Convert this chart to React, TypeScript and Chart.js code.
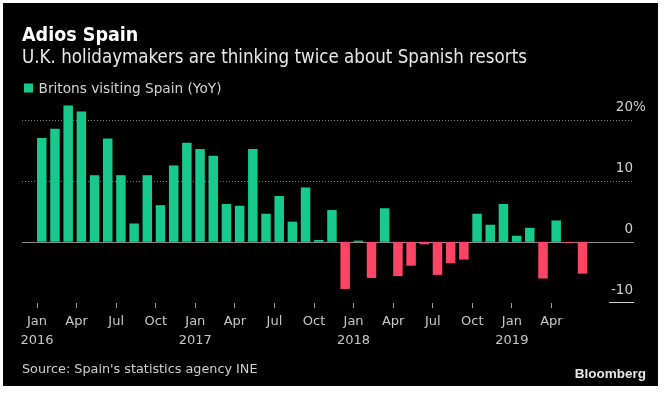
import React, { useEffect, useRef } from "react";
import { Chart, registerables } from "chart.js";

Chart.register(...registerables);

// ---------- data ----------
const TITLE = "Adios Spain";
const SUBTITLE = "U.K. holidaymakers are thinking twice about Spanish resorts";
const SERIES_LABEL = "Britons visiting Spain (YoY)";
const SOURCE = "Source: Spain's statistics agency INE";
const BRAND = "Bloomberg";

const MONTH_NAMES = ["Jan", "Feb", "Mar", "Apr", "May", "Jun", "Jul", "Aug", "Sep", "Oct", "Nov", "Dec"];
const START_YEAR = 2016;

// Monthly YoY % change, Jan 2016 .. Jun 2019
const YOY_VALUES = [
  17.0, 18.5, 22.3, 21.3, 10.9, 16.9, 10.9, 3.0, 10.9, 6.0, 12.5, 16.2,
  15.2, 14.1, 6.2, 5.9, 15.2, 4.6, 7.5, 3.3, 8.9, 0.3, 5.2, -7.7,
  0.2, -5.9, 5.5, -5.6, -3.9, -0.4, -5.4, -3.5, -2.9, 4.6, 2.8, 6.2,
  1.0, 2.3, -6.0, 3.5, -0.1, -5.2,
];

// month indices (from Jan 2016) that carry an x tick label
const X_TICK_MONTHS = [0, 3, 6, 9, 12, 15, 18, 21, 24, 27, 30, 33, 36, 39];
const Y_TICKS = [-10, 0, 10, 20];

// ---------- style ----------
const FAMILY = "'DejaVu Sans', sans-serif";
const FAMILY_COND = "'DejaVu Sans Condensed', 'DejaVu Sans', sans-serif";
const GREEN = "#17c98c";
const RED = "#ff4466";
const BAR_SHIFT = 0.36; // bars start at the beginning of their month

export default function App() {
  const canvasRef = useRef<HTMLCanvasElement | null>(null);

  useEffect(() => {
    document.body.style.margin = "0";
    const canvas = canvasRef.current;
    if (!canvas) return;

    const points = YOY_VALUES.map((v, i) => ({ x: i + BAR_SHIFT, y: v }));
    const colors = YOY_VALUES.map((v) => (v >= 0 ? GREEN : RED));

    const decor = {
      id: "decor",
      beforeDraw(chart: any) {
        const { ctx, width, height } = chart;
        ctx.save();
        ctx.fillStyle = "#ffffff";
        ctx.fillRect(0, 0, width, height);
        ctx.fillStyle = "#000000";
        ctx.fillRect(3, 3, 655, 383);
        ctx.restore();
      },
      beforeDatasetsDraw(chart: any) {
        const { ctx, chartArea } = chart;
        const ys = chart.scales.y;
        ctx.save();
        Y_TICKS.forEach((v) => {
          if (v === Y_TICKS[0]) return;
          const y = Math.round(ys.getPixelForValue(v)) + 0.5;
          ctx.beginPath();
          if (v === 0) {
            ctx.setLineDash([]);
            ctx.strokeStyle = "#8c8c8c";
          } else {
            ctx.setLineDash([1, 2]);
            ctx.strokeStyle = "#7a7a7a";
          }
          ctx.lineWidth = 1;
          ctx.moveTo(chartArea.left, y);
          ctx.lineTo(chartArea.right, y);
          ctx.stroke();
        });
        ctx.restore();
      },
      afterDraw(chart: any) {
        const { ctx, chartArea } = chart;
        const ys = chart.scales.y;
        ctx.save();
        ctx.textBaseline = "alphabetic";

        // y labels (above their lines, right aligned)
        const labelRight = chartArea.right - 1;
        ctx.font = `13.5px ${FAMILY}`;
        ctx.fillStyle = "#cfcfcf";
        Y_TICKS.forEach((v, idx) => {
          const y = ys.getPixelForValue(v);
          const txt = String(v);
          ctx.textAlign = "right";
          ctx.fillText(txt, labelRight, y - 9);
          if (idx === Y_TICKS.length - 1) {
            ctx.textAlign = "left";
            ctx.fillText("%", labelRight, y - 9);
          }
          if (v === Y_TICKS[0]) {
            const w = ctx.measureText(txt).width;
            ctx.strokeStyle = "#cfcfcf";
            ctx.lineWidth = 1;
            ctx.beginPath();
            const yy = Math.round(y) - 0.5;
            ctx.moveTo(labelRight - w - 2, yy);
            ctx.lineTo(labelRight + 1, yy);
            ctx.stroke();
          }
        });

        // title & subtitle
        ctx.textAlign = "left";
        ctx.fillStyle = "#ffffff";
        ctx.font = `bold 19.5px ${FAMILY_COND}`;
        ctx.fillText(TITLE, 22, 41);
        ctx.fillStyle = "#e8e8e8";
        ctx.font = `18.6px ${FAMILY_COND}`;
        ctx.fillText(SUBTITLE, 22, 63);

        // legend
        ctx.fillStyle = GREEN;
        ctx.fillRect(24, 83.5, 9, 9);
        ctx.fillStyle = "#d2d2d2";
        ctx.font = `13.7px ${FAMILY}`;
        ctx.fillText(SERIES_LABEL, 38.5, 92.5);

        // source
        ctx.fillStyle = "#cfcfcf";
        ctx.font = `12.8px ${FAMILY}`;
        ctx.fillText(SOURCE, 22, 373);

        // brand
        ctx.textAlign = "right";
        ctx.fillStyle = "#e6e6e6";
        ctx.font = `bold 13.5px 'Liberation Sans', Arial, sans-serif`;
        ctx.fillText(BRAND, 646, 378);
        ctx.restore();
      },
    };

    const chart = new Chart(canvas, {
      type: "bar",
      data: {
        datasets: [
          {
            label: SERIES_LABEL,
            data: points as any,
            backgroundColor: colors,
            borderWidth: 0,
            barPercentage: 0.72,
            categoryPercentage: 1,
            minBarLength: 1,
          },
        ],
      },
      options: {
        responsive: false,
        animation: false,
        events: [],
        layout: { padding: { left: 22, right: 31, top: 100, bottom: 40 } },
        plugins: {
          legend: { display: false },
          title: { display: false },
          tooltip: { enabled: false },
        },
        scales: {
          x: {
            type: "linear",
            offset: false,
            min: -1.14,
            max: 45.26,
            afterBuildTicks: (s: any) => {
              s.ticks = X_TICK_MONTHS.map((m) => ({ value: m }));
            },
            afterFit: (s: any) => {
              s.height = 50;
            },
            grid: {
              display: true,
              offset: false,
              drawOnChartArea: false,
              drawTicks: true,
              tickLength: 5,
              tickColor: "#9a9a9a",
              tickWidth: 1,
            },
            border: { display: false },
            ticks: {
              autoSkip: false,
              maxRotation: 0,
              minRotation: 0,
              padding: 5,
              color: "#c8c8c8",
              font: { family: FAMILY, size: 13, lineHeight: 1.4 },
              callback: (value: any) => {
                const m = Math.round(Number(value));
                const name = MONTH_NAMES[m % 12];
                if (m % 12 === 0) return [name, String(START_YEAR + m / 12)];
                return name;
              },
            },
          },
          y: {
            display: false,
            min: -10,
            max: 23.2,
          },
        },
      },
      plugins: [decor],
    });

    return () => chart.destroy();
  }, []);

  return (
    <div style={{ position: "fixed", left: 0, top: 0, width: 665, height: 393, background: "#fff" }}>
      <canvas ref={canvasRef} width={665} height={393} />
    </div>
  );
}
